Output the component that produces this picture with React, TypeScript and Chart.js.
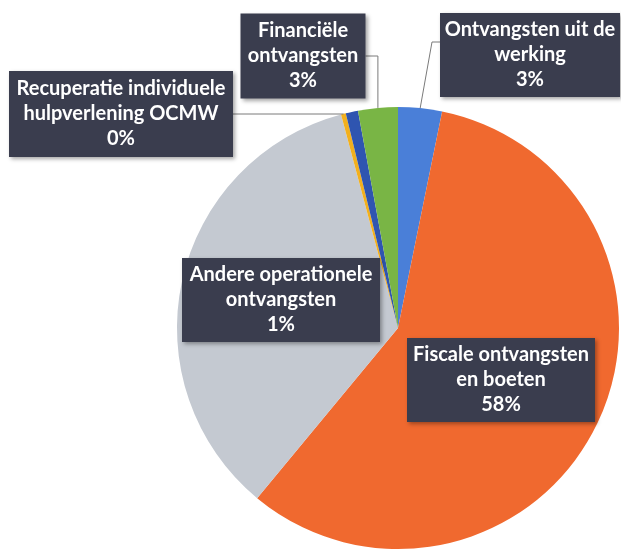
import React, { useEffect, useRef } from "react";
import { Chart, registerables } from "chart.js";

Chart.register(...registerables);

const categories = [
  "Ontvangsten uit de werking",
  "Fiscale ontvangsten en boeten",
  "Werkingssubsidies",
  "Recuperatie individuele hulpverlening OCMW",
  "Andere operationele ontvangsten",
  "Financiële ontvangsten",
];
const shares = [3.2, 57.8, 34.85, 0.35, 0.9, 2.9];
const sliceColors = ["#4a7fd8", "#f0692f", "#c4c9d1", "#f2b01e", "#2f55b0", "#79b545"];
const labelLines: (string[] | null)[] = [
  ["Ontvangsten uit de", "werking"],
  ["Fiscale ontvangsten", "en boeten"],
  null,
  ["Recuperatie individuele", "hulpverlening OCMW"],
  ["Andere operationele", "ontvangsten"],
  ["Financiële", "ontvangsten"],
];

type Placement = { dx: number; dy: number; w: number; h: number; leader: "none" | "horiz" | "elbow" | "diag" };
const placements: (Placement | null)[] = [
  { dx: 132, dy: -273, w: 180, h: 84, leader: "diag" },
  { dx: 103, dy: 52, w: 188, h: 84, leader: "none" },
  null,
  { dx: -277, dy: -214, w: 224, h: 86, leader: "horiz" },
  { dx: -117, dy: -28, w: 198, h: 84, leader: "none" },
  { dx: -95, dy: -272, w: 125, h: 85, leader: "elbow" },
];

const labelPlugin = {
  id: "boxLabels",
  afterDraw(chart: any) {
    const ctx: CanvasRenderingContext2D = chart.ctx;
    const meta = chart.getDatasetMeta(0);
    const data: number[] = chart.data.datasets[0].data;
    const total = data.reduce((a, b) => a + b, 0);
    meta.data.forEach((arc: any, i: number) => {
      const p = placements[i];
      const lines = labelLines[i];
      if (!p || !lines) return;
      const { x, y, startAngle, endAngle, outerRadius } = arc.getProps(
        ["x", "y", "startAngle", "endAngle", "outerRadius"],
        true
      );
      const mid = (startAngle + endAngle) / 2;
      const ax = x + Math.cos(mid) * outerRadius;
      const ay = y + Math.sin(mid) * outerRadius;
      const cx = x + p.dx;
      const cy = y + p.dy;
      const left = cx - p.w / 2;
      const right = cx + p.w / 2;
      const top = cy - p.h / 2;

      ctx.save();
      ctx.strokeStyle = "#7a7a7a";
      ctx.lineWidth = 1;
      ctx.beginPath();
      if (p.leader === "horiz" || p.leader === "elbow") {
        ctx.moveTo(right, cy);
        ctx.lineTo(ax, cy);
        ctx.lineTo(ax, ay);
      } else if (p.leader === "diag") {
        ctx.moveTo(left, top + 29);
        ctx.lineTo(left - 8, top + 29);
        ctx.lineTo(ax, ay);
      }
      if (p.leader !== "none") ctx.stroke();

      ctx.shadowColor = "rgba(0,0,0,0.35)";
      ctx.shadowBlur = 4;
      ctx.shadowOffsetX = 2;
      ctx.shadowOffsetY = 2;
      ctx.fillStyle = "#3a3d4e";
      ctx.fillRect(left, top, p.w, p.h);
      ctx.shadowColor = "transparent";

      const pct = Math.round((data[i] / total) * 100) + "%";
      const all = [...lines, pct];
      ctx.fillStyle = "#ffffff";
      ctx.font = "bold 20px Lato";
      ctx.textAlign = "center";
      ctx.textBaseline = "middle";
      all.forEach((t, k) => {
        ctx.fillText(t, cx, cy + (k - 1) * 25);
      });
      ctx.restore();
    });
  },
};

export default function App() {
  const ref = useRef<HTMLCanvasElement | null>(null);
  useEffect(() => {
    document.body.style.margin = "0";
    const chart = new Chart(ref.current as HTMLCanvasElement, {
      type: "pie",
      data: {
        labels: categories,
        datasets: [
          {
            data: shares,
            backgroundColor: sliceColors,
            borderWidth: 0,
          },
        ],
      },
      options: {
        animation: false,
        responsive: true,
        maintainAspectRatio: false,
        layout: { padding: { left: 177, right: 2, top: 107, bottom: 6 } },
        plugins: { legend: { display: false }, tooltip: { enabled: false } },
      },
      plugins: [labelPlugin],
    });
    return () => chart.destroy();
  }, []);
  return (
    <div style={{ width: 621, height: 555, position: "relative", background: "#ffffff" }}>
      <canvas ref={ref} style={{ display: "block" }} />
    </div>
  );
}
